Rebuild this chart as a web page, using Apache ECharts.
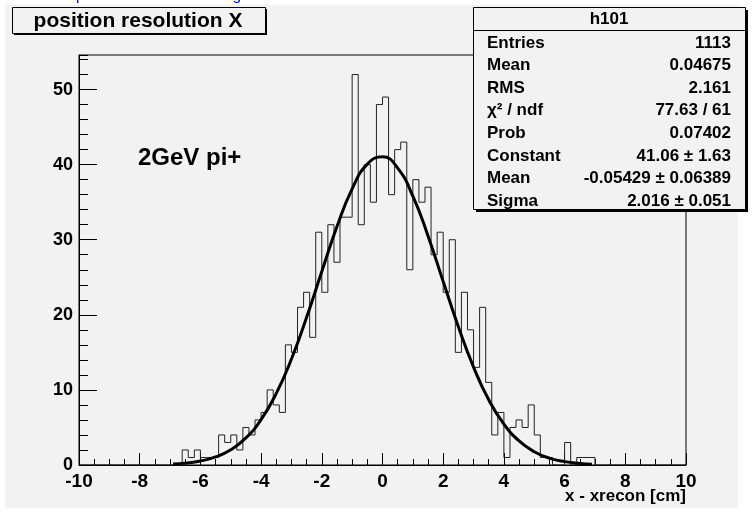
<!DOCTYPE html>
<html>
<head>
<meta charset="utf-8">
<script src="https://cdn.jsdelivr.net/npm/echarts@6/dist/echarts.min.js"></script>
<style>
html,body{margin:0;padding:0;background:#ffffff;}
#c{width:755px;height:514px;}
</style>
</head>
<body>
<div id="c"></div>
<script>
// ---- data ----
const binLow = -10;
const binWidth = 0.2;
const counts = [
  0,0,0,0,0,0,0,0,0,0,
  0,0,0,0,0,0,0,2,1,2,
  1,1,1,4,3,4,2,5,4,6,
  7,10,8,7,16,15,21,23,17,31,
  23,32,27,33,33,52,32,40,35,48,
  49,36,42,43,26,38,35,37,28,31,
  23,30,15,23,18,13,21,11,4,7,
  1,5,6,5,8,4,1,1,0,0,
  3,0,1,1,1,0,0,0,0,0,
  0,0,0,0,0,0,0,0,0,0
];
const fitX = [-6.9,-6.5,-6,-5.5,-5,-4.5,-4,-3.5,-3,-2.5,-2,-1.5,-1,-0.5,0,0.5,1,1.5,2,2.5,3,3.5,4,4.5,5,5.5,6,6.5,6.9];
const fitY = [0.13,0.25,0.53,1.07,2.03,3.61,6.05,9.53,14.11,19.67,25.77,31.75,36.78,40.07,41.05,39.54,35.81,30.51,24.43,18.40,13.04,8.68,5.44,3.20,1.77,0.92,0.45,0.21,0.11];
const xTickLabels = ['-10','-8','-6','-4','-2','0','2','4','6','8','10'];
const statLabels = ['Entries','Mean','RMS','\u03C7\u00B2 / ndf','Prob','Constant','Mean','Sigma'];
const statValues = ['1113','0.04675','2.161','77.63 / 61','0.07402','41.06 \u00B1 1.63','-0.05429 \u00B1 0.06389','2.016 \u00B1 0.051'];
const histName = 'h101';
const titleText = 'position resolution X';
const noteText = '2GeV pi+';
const xAxisTitle = 'x - xrecon [cm]';

// ---- build ----
const histPts = [];
for (let i = 0; i < counts.length; i++) {
  const x0 = binLow + i * binWidth, x1 = x0 + binWidth;
  histPts.push([x0, counts[i]], [x1, counts[i]]);
}
const fitPts = fitX.map((x, i) => [x, fitY[i]]);

const FONT = '"Liberation Sans", Arial, sans-serif';
const panel = '#f2f2f2';

const graphics = [
  {type:'rect', z:-10, shape:{x:5,y:5,width:733,height:503}, style:{fill:panel}},
  {type:'text', z:-5, style:{x:76,y:3,text:'position resolution histogram',font:'15px '+FONT,fill:'#0000ee',textVerticalAlign:'bottom'}},
  // title box
  {type:'rect', z:10, shape:{x:14,y:9,width:253,height:26}, style:{fill:'#000'}},
  {type:'rect', z:11, shape:{x:12.5,y:7.5,width:253,height:26}, style:{fill:panel,stroke:'#000',lineWidth:1}},
  {type:'text', z:12, style:{x:138,y:21,text:titleText,font:'bold 21px '+FONT,fill:'#000',textAlign:'center',textVerticalAlign:'middle'}},
  // stats box
  {type:'rect', z:10, shape:{x:476,y:10,width:272,height:202}, style:{fill:'#000'}},
  {type:'rect', z:11, shape:{x:473.5,y:7.5,width:272,height:202}, style:{fill:panel,stroke:'#000',lineWidth:1}},
  {type:'line', z:12, shape:{x1:473.5,y1:30.5,x2:745.5,y2:30.5}, style:{stroke:'#000',lineWidth:1}},
  {type:'text', z:12, style:{x:609,y:19,text:histName,font:'bold 17px '+FONT,fill:'#000',textAlign:'center',textVerticalAlign:'middle'}},
  // note
  {type:'text', z:12, style:{x:138,y:158,text:noteText,font:'bold 24px '+FONT,fill:'#000',textAlign:'left',textVerticalAlign:'middle'}},
  // x axis title
  {type:'text', z:12, style:{x:686,y:496,text:xAxisTitle,font:'bold 17px '+FONT,fill:'#000',textAlign:'right',textVerticalAlign:'middle'}}
];
statLabels.forEach((t, i) => {
  const y = 43 + i * 22.6;
  graphics.push({type:'text', z:12, style:{x:487,y:y,text:t,font:'bold 17px '+FONT,fill:'#000',textAlign:'left',textVerticalAlign:'middle'}});
  graphics.push({type:'text', z:12, style:{x:731,y:y,text:statValues[i],font:'bold 17px '+FONT,fill:'#000',textAlign:'right',textVerticalAlign:'middle'}});
});

const chart = echarts.init(document.getElementById('c'), null, {renderer:'canvas'});
chart.setOption({
  animation:false,
  backgroundColor:'transparent',
  grid:{left:79, right:69, top:55, bottom:49, show:true, borderColor:'#000', borderWidth:1, backgroundColor:'transparent', containLabel:false, outerBoundsMode:'none'},
  xAxis:{
    type:'value', min:-10, max:10, interval:2,
    axisLine:{show:true,onZero:false,lineStyle:{color:'#000',width:1}},
    axisTick:{show:true,inside:true,length:12,lineStyle:{color:'#000'}},
    minorTick:{show:true,splitNumber:4,length:6,lineStyle:{color:'#000'}},
    splitLine:{show:false},
    axisLabel:{fontFamily:FONT,fontWeight:'bold',fontSize:19,color:'#000',margin:7,
      formatter:(v)=>{const i=Math.round((v+10)/2);return xTickLabels[i]!==undefined?xTickLabels[i]:'';}}
  },
  yAxis:[{
    type:'value', min:0, max:54.6, interval:10, position:'left',
    axisLine:{show:true,onZero:false,lineStyle:{color:'#000',width:1}},
    axisTick:{show:true,inside:true,length:18,lineStyle:{color:'#000'}},
    splitLine:{show:false},
    axisLabel:{fontFamily:FONT,fontWeight:'bold',fontSize:18,color:'#000',margin:6,showMaxLabel:false}
  },{
    type:'value', min:0, max:54.6, interval:2, position:'left',
    axisLine:{show:false,onZero:false},
    axisTick:{show:true,inside:true,length:9,lineStyle:{color:'#000'}},
    splitLine:{show:false},
    axisLabel:{show:false}
  }],
  series:[{
    type:'line', data:histPts, yAxisIndex:0, symbol:'none', silent:true,
    lineStyle:{color:'#222',width:1}, z:3
  },{
    type:'line', data:fitPts, yAxisIndex:0, symbol:'none', smooth:true, silent:true,
    lineStyle:{color:'#000',width:3}, z:4
  }],
  graphic:graphics
});
</script>
</body>
</html>
